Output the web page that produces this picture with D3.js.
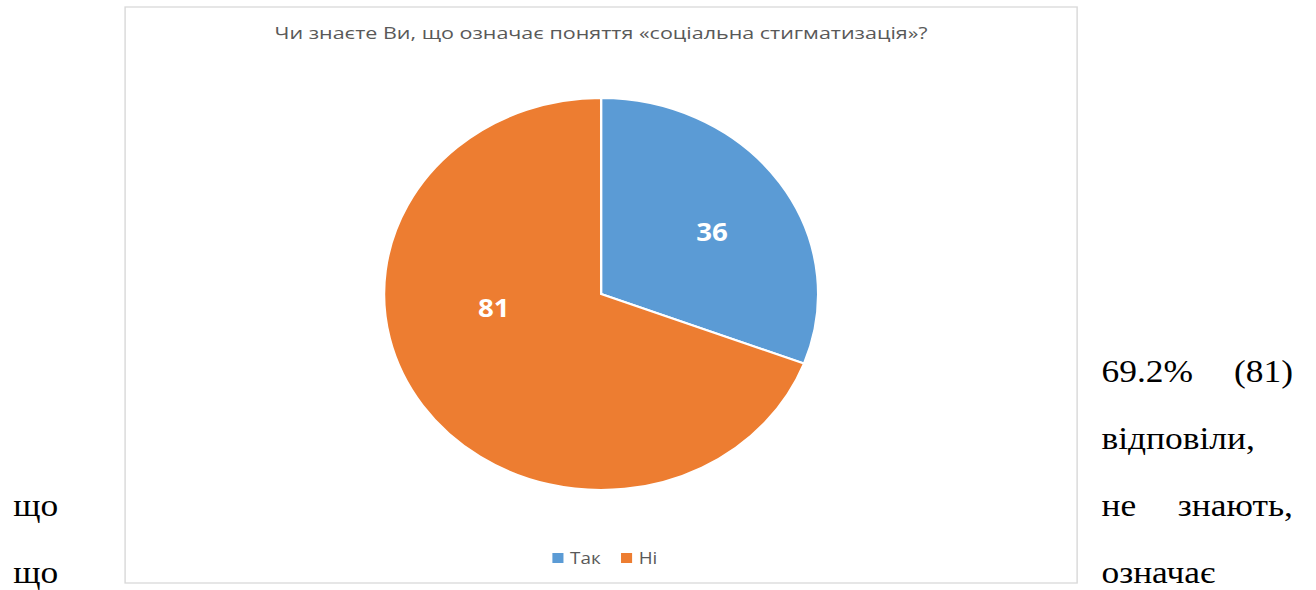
<!DOCTYPE html>
<html lang="uk">
<head>
    <meta charset="UTF-8">
    <title>Соціальна стигматизація</title>
    <script src="https://d3js.org/d3.v7.min.js"></script>
    <style>
        body { margin: 0; background: #fff; }
        svg { display: block; }
        .title { font: 17px "Open Sans", sans-serif; fill: #595959; }
        .legend text { font: 17px "Open Sans", sans-serif; fill: #595959; }
        .slice-label { font: bold 25px "Open Sans", sans-serif; fill: #fff; }
        .body-text { font: 32px "Liberation Serif", "Times New Roman", serif; fill: #000; }
    </style>
</head>
<body>
<script>
    // chart data
    const title = 'Чи знаєте Ви, що означає поняття «соціальна стигматизація»?';
    const categories = ['Так', 'Ні'];
    const values = [36, 81];
    const colors = ['#5b9bd5', '#ed7d31'];

    // text of the page around the chart: [left part, right part]
    const bodyLines = [
        ['', '69.2%|(81)'],
        ['', 'відповіли,'],
        ['що', 'не|знають,'],
        ['що', 'означає']
    ];

    const width = 1316;
    const height = 590;
    // the source picture is stretched sideways, so draw in a narrower box
    const stretch = 1.107;
    const vbWidth = width / stretch;

    const svg = d3.select('body').append('svg')
        .attr('width', width)
        .attr('height', height)
        .attr('viewBox', `0 0 ${vbWidth} ${height}`)
        .attr('preserveAspectRatio', 'none');

    // chart frame
    const frame = { x: 113, y: 7, w: 860, h: 576 };
    svg.append('rect')
        .attr('x', frame.x)
        .attr('y', frame.y)
        .attr('width', frame.w)
        .attr('height', frame.h)
        .attr('fill', '#fff')
        .attr('stroke', '#d9d9d9')
        .attr('stroke-width', 1.3);

    const cx = frame.x + frame.w / 2;

    svg.append('text')
        .attr('class', 'title')
        .attr('x', cx)
        .attr('y', 39)
        .attr('text-anchor', 'middle')
        .attr('textLength', 590)
        .attr('lengthAdjust', 'spacingAndGlyphs')
        .text(title);

    // pie
    const radius = 196;
    const pie = d3.pie().sort(null).value(d => d.value);
    const arcs = pie(categories.map((c, i) => ({ name: c, value: values[i] })));
    const arc = d3.arc().innerRadius(0).outerRadius(radius);
    const color = d3.scaleOrdinal().domain(categories).range(colors);

    const g = svg.append('g')
        .attr('transform', `translate(${cx},294)`);

    g.selectAll('path')
        .data(arcs)
        .enter().append('path')
        .attr('d', arc)
        .attr('fill', d => color(d.data.name))
        .attr('stroke', '#fff')
        .attr('stroke-width', 2);

    // label placement like Excel's best fit: radius share and angle shift (deg)
    const labelFit = [{ k: 0.6, shift: 3 }, { k: 0.5, shift: 26 }];
    g.selectAll('text')
        .data(arcs)
        .enter().append('text')
        .attr('class', 'slice-label')
        .attr('text-anchor', 'middle')
        .attr('dy', '0.35em')
        .attr('transform', (d, i) => {
            const a = (d.startAngle + d.endAngle) / 2 + labelFit[i].shift * Math.PI / 180;
            const r = radius * labelFit[i].k;
            return `translate(${r * Math.sin(a)},${-r * Math.cos(a)})`;
        })
        .text(d => d.data.value);

    // legend
    const legend = svg.append('g')
        .attr('class', 'legend')
        .attr('transform', 'translate(499,558)');
    const legendX = d3.scalePoint().domain(categories).range([0, 62]);
    const item = legend.selectAll('g')
        .data(categories)
        .enter().append('g')
        .attr('transform', d => `translate(${legendX(d)},0)`);
    item.append('rect')
        .attr('x', 0)
        .attr('y', -5)
        .attr('width', 10)
        .attr('height', 10)
        .attr('fill', d => color(d));
    item.append('text')
        .attr('x', 16)
        .attr('dy', '0.35em')
        .text(d => d);

    // surrounding page text, justified in two columns
    const leftX = 12;
    const rightX0 = 995;
    const rightX1 = 1168;
    const lineY = d3.scaleLinear().domain([0, 1]).range([382, 449]);

    bodyLines.forEach((line, i) => {
        const y = lineY(i);
        if (line[0]) {
            svg.append('text').attr('class', 'body-text')
                .attr('x', leftX).attr('y', y).text(line[0]);
        }
        const words = line[1].split('|');
        svg.append('text').attr('class', 'body-text')
            .attr('x', rightX0).attr('y', y).text(words[0]);
        if (words.length > 1) {
            svg.append('text').attr('class', 'body-text')
                .attr('x', rightX1).attr('y', y)
                .attr('text-anchor', 'end').text(words[1]);
        }
    });
</script>
</body>
</html>
